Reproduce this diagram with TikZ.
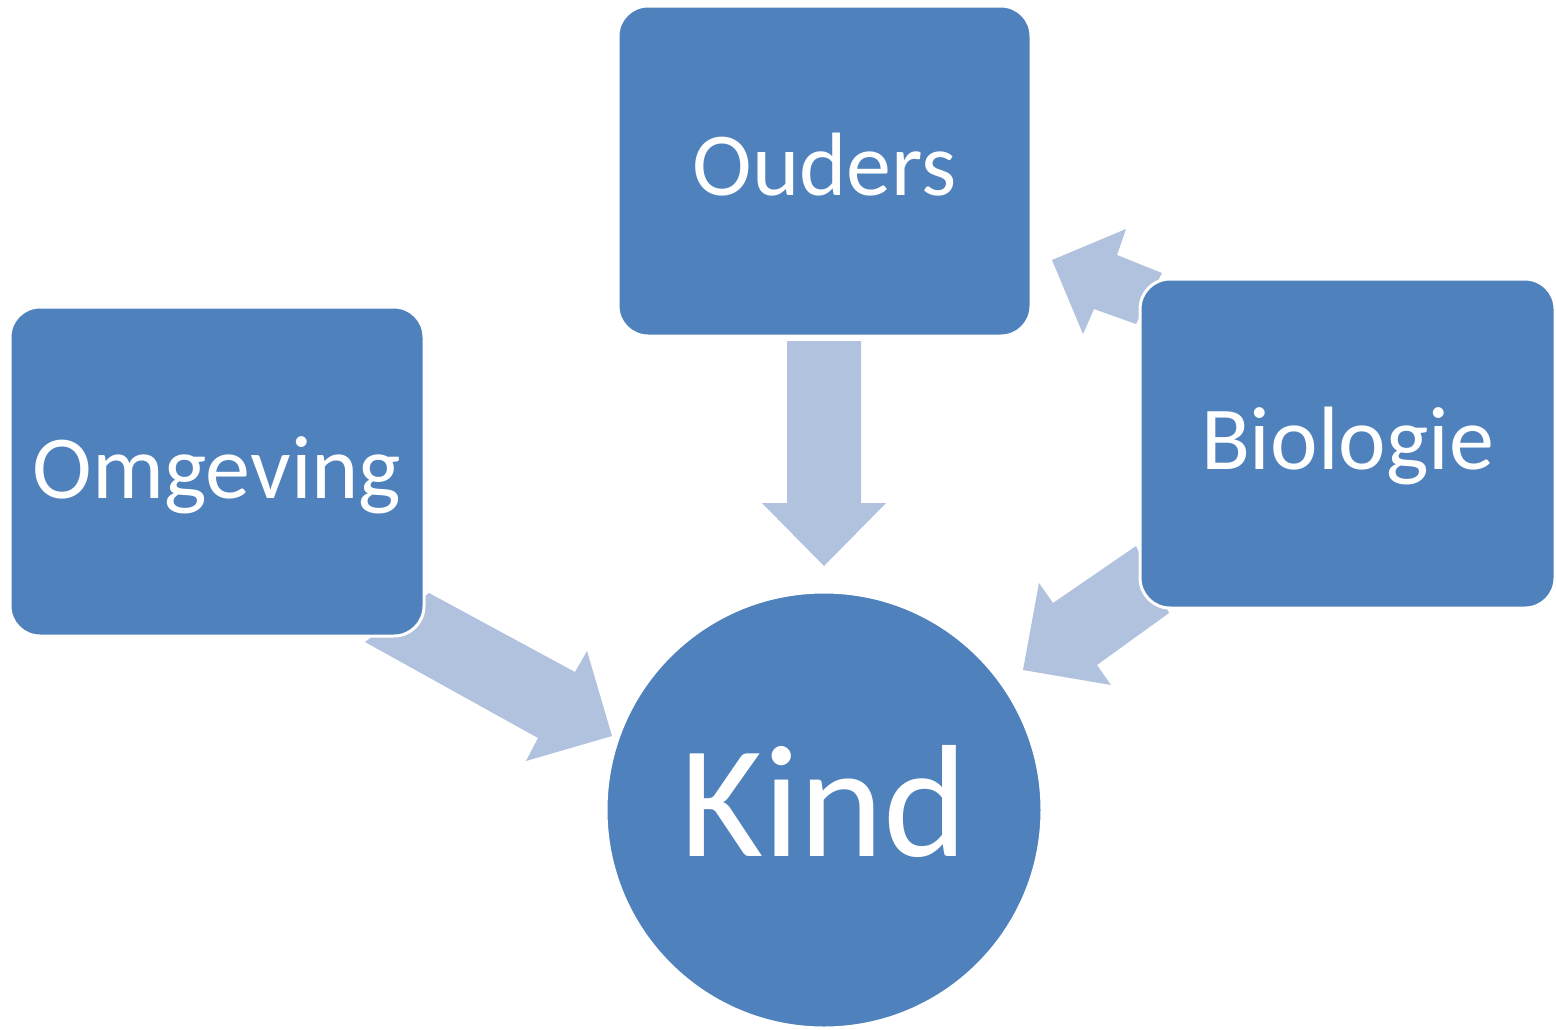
\documentclass[tikz,border=0pt]{standalone}
\usepackage{fontspec}
\setmainfont{Carlito}
\definecolor{boxblue}{HTML}{4F81BD}
\definecolor{arrowblue}{HTML}{B0C2DD}
\begin{document}
\begin{tikzpicture}[x=1pt,y=-1pt,
  box/.style={rectangle,rounded corners=30pt,fill=boxblue,draw=white,line width=3pt,inner sep=0pt},
  lbl/.style={text=white,font=\fontsize{90}{100}\selectfont,inner sep=0pt},
  blockarrow/.style={fill=arrowblue,draw=none}]
\useasboundingbox (0,0) rectangle (1556,1029);
% arrows (behind boxes)
\fill[blockarrow] (787,341) -- (861,341) -- (861,503) -- (886,503) -- (824,566) -- (762,503) -- (787,503) -- cycle;
\fill[blockarrow] (365,642) -- (429,593) -- (575,672) -- (587,651) -- (612,736) -- (526,761) -- (538,738) -- cycle;
\fill[blockarrow] (1136,546) -- (1053,603) -- (1039,583) -- (1023,670) -- (1111,685) -- (1097,665) -- (1169,613) -- cycle;
\fill[blockarrow] (1162,273) -- (1117,255) -- (1126,229) -- (1052,260) -- (1083,334) -- (1094,309) -- (1136,324) -- cycle;
% boxes
\node[box,minimum width=413pt,minimum height=330pt] (ouders) at (824.5,171) {};
\node[box,minimum width=414pt,minimum height=329pt] (omgeving) at (217,471.5) {};
\node[box,minimum width=415pt,minimum height=329pt] (biologie) at (1347.5,443.5) {};
\node[circle,fill=boxblue,draw=white,line width=3pt,minimum size=436pt,inner sep=0pt] (kind) at (824,810) {};
% labels
\node[lbl,yshift=6pt] (oudersT) at (ouders.center) {Ouders};
\node[lbl,yshift=-4pt] (omgevingT) at (omgeving.center) {Omgeving};
\node[lbl,yshift=-2.5pt] (biologieT) at (biologie.center) {Biologie};
\node[lbl,font=\fontsize{160}{170}\selectfont,yshift=9pt] (kindT) at (kind.center) {Kind};
\end{tikzpicture}
\end{document}
